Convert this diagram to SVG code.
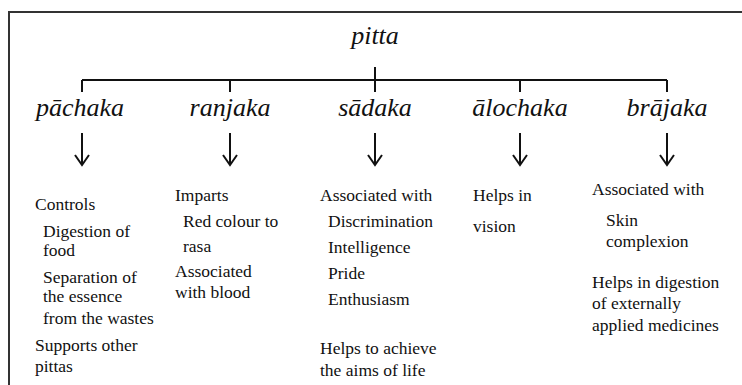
<svg xmlns="http://www.w3.org/2000/svg" width="742" height="385" viewBox="0 0 742 385">
<style>
.t{font-size:17.5px;fill:#111}
.h{font-size:26px;font-style:italic;fill:#111;text-anchor:middle}
.ln{stroke:#111;stroke-width:2;fill:none}
</style>
<rect x="0" y="0" width="742" height="385" fill="#fff"/>
<path d="M9 385 V12 H742" stroke="#333" stroke-width="2" fill="none"/>
<g id="connectors">
<path class="ln" d="M375 67 V92 M82 80 H667 M82 80 V92 M230 80 V92 M520 80 V92 M667 80 V92"/>
<g class="ln" stroke-width="1.6">
<path d="M82 133 V164 M75 155 L82 165 L89 155"/>
<path d="M230 133 V164 M223 155 L230 165 L237 155"/>
<path d="M375 133 V164 M368 155 L375 165 L382 155"/>
<path d="M520 133 V164 M513 155 L520 165 L527 155"/>
<path d="M667 133 V164 M660 155 L667 165 L674 155"/>
</g>
</g>
<g font-family="Liberation Serif, Times New Roman, serif">
<g id="pitta"><text class="h" x="375" y="44">pitta</text></g>
<g id="pachaka">
<text class="h" x="80" y="116">pāchaka</text>
<text class="t" x="35" y="210">Controls</text>
<text class="t" x="43" y="237">Digestion of</text>
<text class="t" x="43" y="256">food</text>
<text class="t" x="43" y="283">Separation of</text>
<text class="t" x="43" y="302">the essence</text>
<text class="t" x="43" y="324">from the wastes</text>
<text class="t" x="35" y="351">Supports other</text>
<text class="t" x="35" y="372">pittas</text>
</g>
<g id="ranjaka">
<text class="h" x="230" y="116">ranjaka</text>
<text class="t" x="175" y="201">Imparts</text>
<text class="t" x="183" y="227">Red colour to</text>
<text class="t" x="183" y="252">rasa</text>
<text class="t" x="175" y="277">Associated</text>
<text class="t" x="175" y="298">with blood</text>
</g>
<g id="sadaka">
<text class="h" x="375" y="116">sādaka</text>
<text class="t" x="320" y="201">Associated with</text>
<text class="t" x="328" y="227">Discrimination</text>
<text class="t" x="328" y="253">Intelligence</text>
<text class="t" x="328" y="279">Pride</text>
<text class="t" x="328" y="305">Enthusiasm</text>
<text class="t" x="320" y="354">Helps to achieve</text>
<text class="t" x="320" y="376">the aims of life</text>
</g>
<g id="alochaka">
<text class="h" x="520" y="116">ālochaka</text>
<text class="t" x="473" y="201">Helps in</text>
<text class="t" x="473" y="232">vision</text>
</g>
<g id="brajaka">
<text class="h" x="667" y="116">brājaka</text>
<text class="t" x="592" y="195">Associated with</text>
<text class="t" x="606" y="226">Skin</text>
<text class="t" x="606" y="247">complexion</text>
<text class="t" x="592" y="288">Helps in digestion</text>
<text class="t" x="592" y="309">of externally</text>
<text class="t" x="592" y="331">applied medicines</text>
</g>
</g>
</svg>
